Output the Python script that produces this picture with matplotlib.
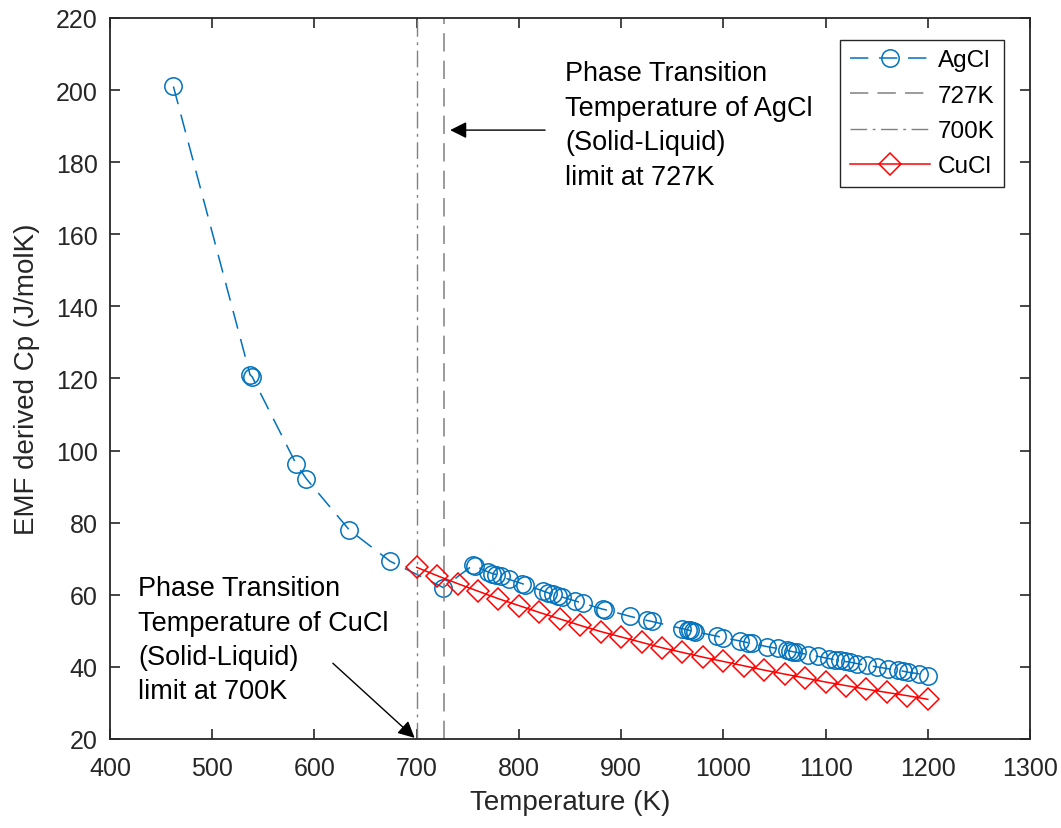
import matplotlib
matplotlib.use("Agg")
import matplotlib.pyplot as plt

plt.rcParams['font.family'] = ['Liberation Sans', 'DejaVu Sans']

# AgCl EMF-derived Cp
agcl_T = [462, 537, 539, 582, 592, 634, 674, 726,
          755, 757, 770, 774, 778, 782, 790, 803, 806, 824, 828, 833, 838, 842,
          855, 863, 882, 884, 909, 925, 930, 960, 965, 967, 970, 972, 994, 1000,
          1016, 1024, 1028, 1043, 1053, 1062, 1065, 1068, 1072, 1083, 1093, 1103,
          1109, 1114, 1119, 1124, 1131, 1141, 1150, 1161, 1171, 1176, 1181, 1191, 1200]
agcl_cp = [201.0, 121.0, 120.5, 96.3, 92.2, 78.0, 69.3, 62.0,
           68.2, 68.0, 66.3, 65.9, 65.6, 65.2, 64.3, 63.1, 62.8, 61.0, 60.6, 60.1, 59.7, 59.4,
           58.3, 57.6, 56.0, 55.9, 54.0, 52.9, 52.6, 50.6, 50.3, 50.1, 49.9, 49.8, 48.5, 48.1,
           47.2, 46.7, 46.5, 45.6, 45.1, 44.6, 44.4, 44.2, 44.0, 43.4, 42.9, 42.3,
           42.0, 41.8, 41.5, 41.3, 40.9, 40.4, 40.0, 39.5, 39.0, 38.8, 38.5, 38.1, 37.6]

# CuCl
cucl_T = [700, 720, 740, 760, 780, 800, 820, 840, 860, 880, 900, 920, 940,
          960, 980, 1000, 1020, 1040, 1060, 1080, 1100, 1120, 1140, 1160, 1180, 1200]
cucl_cp = [67.6, 65.3, 63.1, 61.0, 58.9, 57.0, 55.1, 53.3, 51.5, 49.8, 48.3, 46.8, 45.3,
           44.0, 42.7, 41.5, 40.3, 39.1, 38.0, 36.9, 35.8, 34.8, 33.8, 32.9, 32.0, 31.0]

t_agcl = 727
t_cucl = 700

blue = '#0072BD'
gray = '#808080'
axc = '#262626'

fig = plt.figure(figsize=(10.61, 8.29), dpi=100)
ax = fig.add_axes([0.1037, 0.1074, 0.8671, 0.8697])

ln1, = ax.plot(agcl_T, agcl_cp, color=blue, lw=1.1, marker='o', ms=12.5,
               mfc='none', mec=blue, mew=1.1, label='AgCl')
ln1.set_dashes([12, 7])
l727 = ax.axvline(t_agcl, color=gray, lw=1.1, label='727K')
l727.set_dashes([12, 6])
l700 = ax.axvline(t_cucl, color=gray, lw=1.0, label='700K')
l700.set_dashes([12, 4, 2, 4])
ax.plot(cucl_T, cucl_cp, color='red', lw=1.1, marker='D', ms=11,
        mfc='none', mec='red', mew=1.1, label='CuCl')

ax.set_xlim(400, 1300)
ax.set_ylim(20, 220)
ax.set_xticks(range(400, 1301, 100))
ax.set_yticks(range(20, 221, 20))
ax.tick_params(direction='in', length=7, width=1.2, top=True, right=True,
               labelsize=18, colors=axc)
ax.tick_params(axis='x', pad=12)
ax.tick_params(axis='y', pad=9)
for s in ax.spines.values():
    s.set_color(axc)
    s.set_linewidth(1.3)

ax.set_xlabel('Temperature (K)', fontsize=20, color=axc, labelpad=7)
ax.set_ylabel('EMF derived Cp (J/molK)', fontsize=20, color=axc, labelpad=11)

leg = ax.legend(loc='upper right', bbox_to_anchor=(0.972, 0.970), fontsize=17.5,
                handlelength=3.3, numpoints=1, fancybox=False, framealpha=1,
                edgecolor=axc, borderpad=0.4, labelspacing=0.55, handletextpad=0.3,
                borderaxespad=0)
leg.get_frame().set_linewidth(1.0)

ax.text(845, 190.3, 'Phase Transition\nTemperature of AgCl\n(Solid-Liquid)\nlimit at 727K',
        fontsize=19.5, va='center', ha='left', linespacing=1.42, color='black')
ax.annotate('', xy=(732.7, 188.9), xytext=(825.6, 188.9),
            arrowprops=dict(arrowstyle='-|>', color='black', lw=1.0,
                            mutation_scale=25, shrinkA=0, shrinkB=0))

ax.text(427.4, 47.5, 'Phase Transition\nTemperature of CuCl\n(Solid-Liquid)\nlimit at 700K',
        fontsize=19.5, va='center', ha='left', linespacing=1.42, color='black')
ax.annotate('', xy=(698, 20.3), xytext=(618, 41),
            arrowprops=dict(arrowstyle='-|>', color='black', lw=1.0,
                            mutation_scale=25, shrinkA=0, shrinkB=0))

fig.savefig('out.png', dpi=100)
